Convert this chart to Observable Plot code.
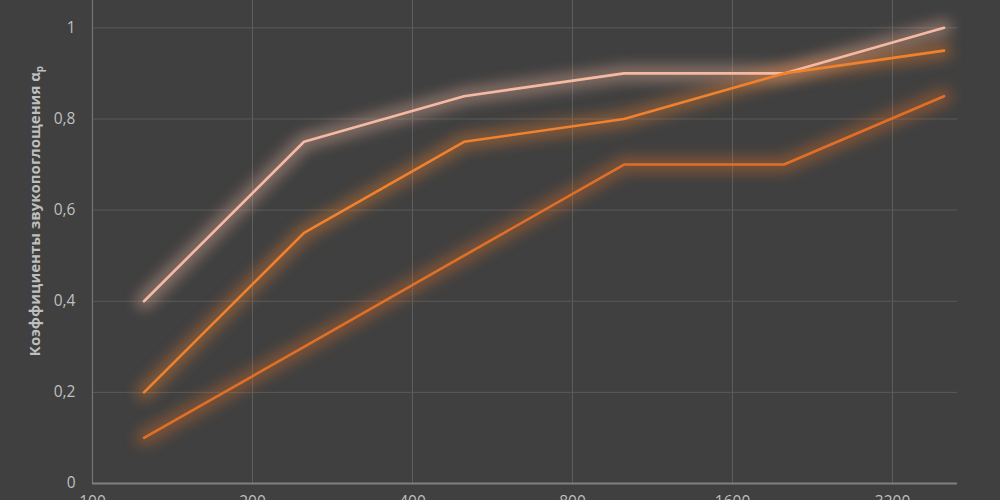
<!DOCTYPE html>
<html>
<head>
<meta charset="utf-8">
<script src="https://cdn.jsdelivr.net/npm/d3@7"></script>
<script src="https://cdn.jsdelivr.net/npm/@observablehq/plot@0.6"></script>
<style>
  html, body { margin: 0; padding: 0; background: #404040; overflow: hidden; }
  #chart svg { display: block; background: #404040; }
  [aria-description="glow"] { filter: blur(7px); }
</style>
</head>
<body>
<div id="chart"></div>
<script>
const frequencies = [125, 250, 500, 1000, 2000, 4000];
const xTicks = [100, 200, 400, 800, 1600, 3200];
const yTicks = [0, 0.2, 0.4, 0.6, 0.8, 1];
const seriesNames = ["Ряд 1", "Ряд 2", "Ряд 3"];
const series1 = [0.4, 0.75, 0.85, 0.9, 0.9, 1.0];
const series2 = [0.2, 0.55, 0.75, 0.8, 0.9, 0.95];
const series3 = [0.1, 0.3, 0.5, 0.7, 0.7, 0.85];
const seriesColors = ["#f6baa2", "#f0812e", "#e07028"];

const allSeries = [series1, series2, series3];
const data = allSeries.flatMap((vals, i) =>
  vals.map((v, j) => ({series: seriesNames[i], f: frequencies[j], a: v}))
);

const W = 1000, H = 500;
const fmtY = d => String(d).replace(".", ",");
const fmtX = d => String(d);

const glowMarks = seriesNames.map((name, i) =>
  Plot.line(data.filter(d => d.series === name), {
    x: "f", y: "a", stroke: seriesColors[i], strokeWidth: 16, strokeOpacity: 0.4,
    ariaDescription: "glow"
  })
);
const lineMarks = seriesNames.map((name, i) =>
  Plot.line(data.filter(d => d.series === name), {
    x: "f", y: "a", stroke: seriesColors[i], strokeWidth: 2.6
  })
);

const chart = Plot.plot({
  width: W,
  height: H,
  marginLeft: 92,
  marginRight: 43,
  marginTop: 0,
  marginBottom: 17,
  style: {background: "#404040", fontFamily: "'Open Sans', 'Liberation Sans', sans-serif", fontSize: "15px", color: "#bfbfbf", overflow: "visible"},
  x: {type: "log", base: 2, domain: [100, 4240], ticks: xTicks, tickFormat: fmtX, label: null},
  y: {domain: [0, 1.06], ticks: yTicks, tickFormat: fmtY, label: null},
  marks: [
    Plot.gridX(xTicks.slice(1), {stroke: "#5e5e5e", strokeOpacity: 1, strokeWidth: 1}),
    Plot.gridY(yTicks.slice(1), {stroke: "#5a5a5a", strokeOpacity: 1, strokeWidth: 1}),
    Plot.axisY(yTicks, {tickSize: 0, tickPadding: 17, tickFormat: fmtY, fill: "#bfbfbf", fontSize: 15.5, label: null}),
    Plot.axisX(xTicks, {tickSize: 0, tickPadding: 12, tickFormat: fmtX, fill: "#bfbfbf", fontSize: 15.5, label: null}),
    Plot.ruleX([100], {stroke: "#767676", strokeWidth: 1.2}),
    Plot.ruleY([0], {stroke: "#808080", strokeWidth: 1.8}),
    ...glowMarks,
    ...lineMarks
  ]
});

document.getElementById("chart").appendChild(chart);

// Y axis title
const svg = d3.select(chart);
const t = svg.append("text")
  .attr("transform", "translate(40,211) rotate(-90)")
  .attr("text-anchor", "middle")
  .attr("fill", "#bfbfbf")
  .attr("font-weight", "bold")
  .attr("font-size", 15)
  .attr("font-family", "'Open Sans', 'Liberation Sans', sans-serif");
t.append("tspan").text("Коэффициенты звукопоглощения α");
t.append("tspan").attr("font-size", 10).attr("dy", 3).text("p");
</script>
</body>
</html>
